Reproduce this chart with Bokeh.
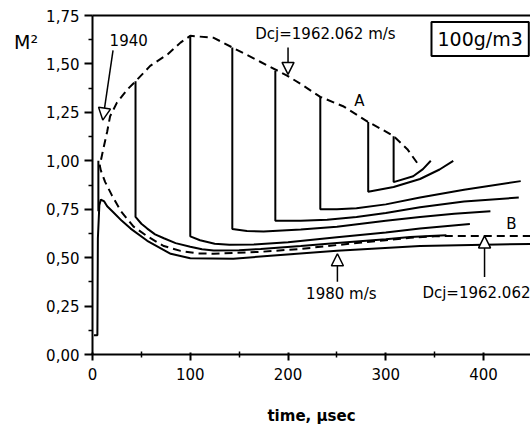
from bokeh.plotting import figure
from bokeh.models import (Range1d, FixedTicker, CustomJSTickFormatter, LinearAxis,
                          Label, Arrow, NormalHead)
from bokeh.embed import file_html
from bokeh.resources import INLINE

# ---------------- data ----------------
# dashed envelope: branch A (upper, from right end back to the cusp) then branch B (lower)
dash_x = [332, 322, 308, 295, 282, 257, 233, 215, 199, 172, 143, 124, 100, 90, 77, 59, 44, 36, 25, 18, 15, 11, 8.5, 7.5,
          8.5, 13, 20, 29, 42, 56, 73, 90, 107, 124, 172, 213, 250, 300, 325, 350, 365, 448]
dash_y = [0.99, 1.06, 1.127, 1.165, 1.20, 1.28, 1.33, 1.39, 1.44, 1.51, 1.585, 1.635, 1.645, 1.61, 1.55, 1.49, 1.41, 1.37, 1.30, 1.23, 1.15, 1.06, 1.00, 0.975,
          0.95, 0.89, 0.82, 0.74, 0.66, 0.61, 0.56, 0.535, 0.522, 0.52, 0.53, 0.545, 0.565, 0.59, 0.603, 0.61, 0.612, 0.612]

# lowest solid curve (1980 m/s)
c0_x = [1.5, 5, 5.5, 7, 8.5, 12, 15, 21, 30, 39, 56, 80, 100, 144, 182, 250, 335, 448]
c0_y = [0.10, 0.10, 0.60, 0.77, 0.80, 0.79, 0.765, 0.736, 0.69, 0.65, 0.587, 0.52, 0.497, 0.494, 0.51, 0.535, 0.56, 0.571]
spike_x = [6, 6]
spike_y = [0.74, 1.0]

c1_x = [44, 44, 50, 56, 64, 73, 85, 100, 112, 124, 150, 172, 213, 250, 300, 325, 345, 362]
c1_y = [1.41, 0.71, 0.675, 0.65, 0.62, 0.60, 0.575, 0.556, 0.543, 0.537, 0.538, 0.545, 0.56, 0.575, 0.595, 0.607, 0.612, 0.615]

c2_x = [100, 100, 110, 125, 140, 165, 200, 250, 300, 335, 386]
c2_y = [1.645, 0.61, 0.59, 0.572, 0.566, 0.568, 0.58, 0.605, 0.63, 0.65, 0.674]

c3_x = [143, 143, 158, 175, 213, 250, 300, 335, 370, 407]
c3_y = [1.585, 0.648, 0.638, 0.635, 0.645, 0.66, 0.69, 0.71, 0.727, 0.74]

c4_x = [187, 187, 213, 240, 270, 300, 335, 380, 436]
c4_y = [1.465, 0.69, 0.69, 0.695, 0.71, 0.73, 0.76, 0.79, 0.81]

c5_x = [233, 233, 250, 270, 300, 335, 380, 438]
c5_y = [1.33, 0.75, 0.75, 0.755, 0.775, 0.81, 0.85, 0.895]

c6_x = [282, 282, 308, 335, 355, 369]
c6_y = [1.20, 0.84, 0.865, 0.906, 0.955, 1.0]

c7_x = [308, 308, 328, 338, 346]
c7_y = [1.127, 0.89, 0.92, 0.957, 1.0]

x_ticks = [0, 100, 200, 300, 400]
x_minor = [50, 150, 250, 350, 450]
y_ticks = [0, 0.25, 0.5, 0.75, 1.0, 1.25, 1.5, 1.75]
y_minor = [0.125, 0.375, 0.625, 0.875, 1.125, 1.375, 1.625]

FONT = "DejaVu Sans"

# ---------------- figure ----------------
p = figure(width=530, height=427, x_range=Range1d(0, 448), y_range=Range1d(0, 1.75),
           output_backend="svg", toolbar_location=None,
           min_border_left=92, min_border_right=0, min_border_top=15, min_border_bottom=71)
p.outline_line_color = None
p.grid.visible = False
p.background_fill_color = "white"
p.border_fill_color = "white"

xa = p.xaxis[0]
xa.ticker = FixedTicker(ticks=x_ticks, minor_ticks=x_minor)
xa.axis_line_width = 2
xa.major_tick_out = 6
xa.major_tick_in = 2
xa.minor_tick_out = 3
xa.minor_tick_in = 3
xa.major_tick_line_width = 2
xa.minor_tick_line_width = 1.5
xa.major_label_text_font = FONT
xa.major_label_text_font_size = "15px"
xa.major_label_text_color = "black"
xa.major_label_standoff = 7
xa.axis_label = "time, µsec"
xa.axis_label_text_font = FONT
xa.axis_label_text_font_style = "bold"
xa.axis_label_text_font_size = "15px"
xa.axis_label_text_color = "black"
xa.axis_label_standoff = 24

ya = p.yaxis[0]
ya.ticker = FixedTicker(ticks=y_ticks, minor_ticks=y_minor)
ya.formatter = CustomJSTickFormatter(code="return tick.toFixed(2).replace('.', ',');")
ya.axis_line_width = 2
ya.major_tick_out = 8
ya.major_tick_in = 0
ya.minor_tick_out = 4
ya.minor_tick_in = 0
ya.major_tick_line_width = 2
ya.minor_tick_line_width = 1.5
ya.major_label_text_font = FONT
ya.major_label_text_font_size = "15px"
ya.major_label_text_color = "black"
ya.major_label_standoff = 5
ya.axis_label = "\n\nM²"
ya.axis_label_text_font = FONT
ya.axis_label_text_font_size = "19px"
ya.axis_label_text_font_style = "normal"
ya.axis_label_text_color = "black"
ya.axis_label_orientation = "horizontal"
ya.axis_label_align = "end"
ya.axis_label_standoff = 5

top = LinearAxis(ticker=FixedTicker(ticks=[]), axis_line_width=2,
                 major_label_text_font_size="0px")
p.add_layout(top, "above")

# ---------------- curves ----------------
LW = 2
p.line(dash_x, dash_y, line_color="black", line_width=LW, line_dash="8 5")
for xs, ys in [(c0_x, c0_y), (spike_x, spike_y), (c1_x, c1_y), (c2_x, c2_y), (c3_x, c3_y),
               (c4_x, c4_y), (c5_x, c5_y), (c6_x, c6_y), (c7_x, c7_y)]:
    p.line(xs, ys, line_color="black", line_width=LW)

# ---------------- annotations ----------------
def lab(x, y, t, size="15px", align="center", style="normal", **kw):
    p.add_layout(Label(x=x, y=y, text=t, text_font=FONT, text_font_size=size,
                       text_align=align, text_baseline="middle", text_color="black",
                       text_font_style=style, **kw))

lab(37, 1.626, "1940")
lab(166.5, 1.657, "Dcj=1962.062 m/s", align="left")
lab(273, 1.307, "A")
lab(428.5, 0.674, "B")
lab(254.5, 0.314, "1980 m/s")
lab(448, 0.319, "Dcj=1962.062", align="right")
lab(396.5, 1.629, "100g/m3", size="19px", border_line_color="black", border_line_width=2,
    background_fill_color="white", padding=6)

def arrow(x0, y0, x1, y1):
    p.add_layout(Arrow(end=NormalHead(size=12, fill_color="white", line_color="black", line_width=1.5),
                       x_start=x0, y_start=y0, x_end=x1, y_end=y1, line_width=1.5, line_color="black"))

arrow(21, 1.57, 10.5, 1.21)
arrow(200, 1.585, 200, 1.446)
arrow(250.5, 0.375, 250.5, 0.52)
arrow(401, 0.40, 401, 0.612)

open("out.html", "w").write(file_html(p, INLINE))
